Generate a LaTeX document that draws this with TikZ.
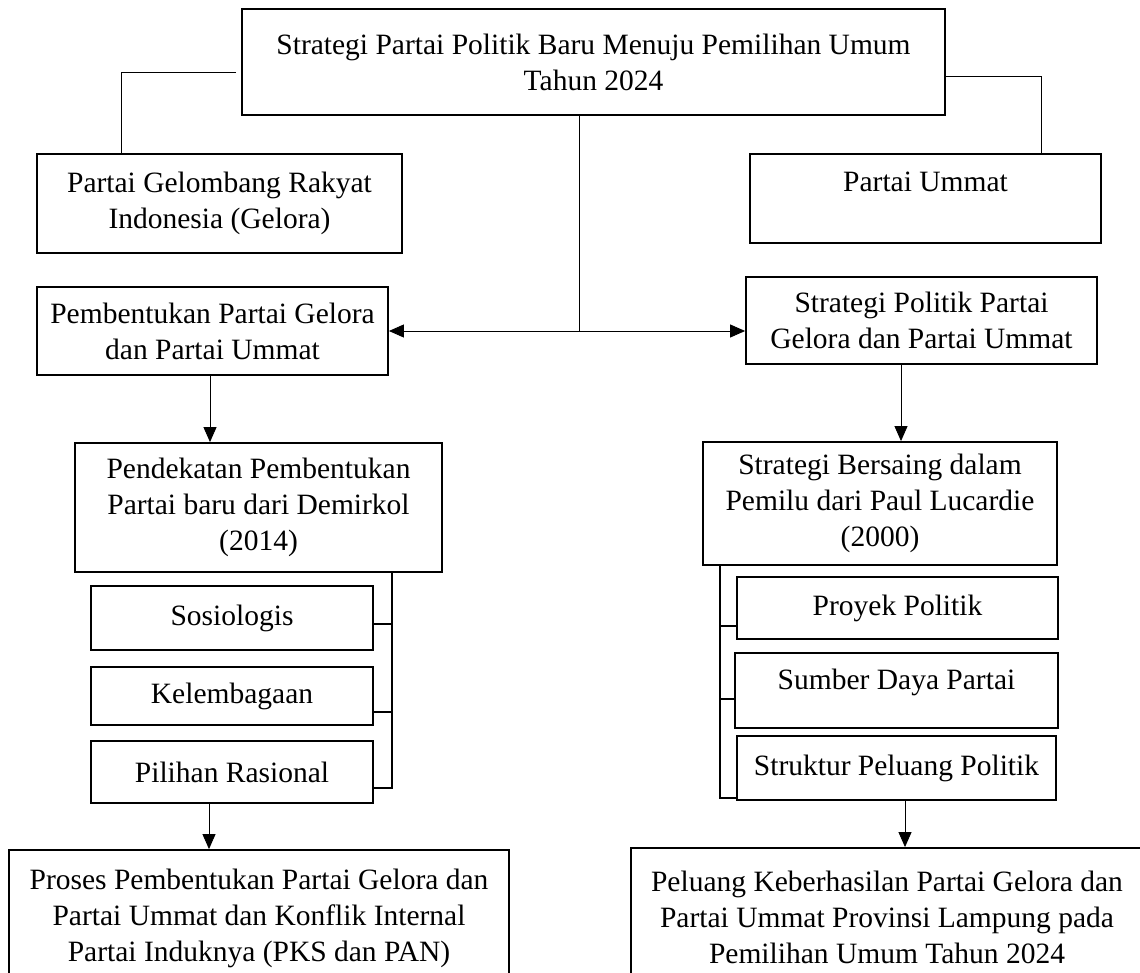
\documentclass[tikz,border=0pt]{standalone}
\usepackage{fontspec}
\setmainfont{Liberation Serif}
\usetikzlibrary{positioning,calc,arrows.meta}

\begin{document}
\begin{tikzpicture}[%
    x=1pt,
    y=-1pt,
    font=\fontsize{29.5}{36}\selectfont,
    >={Triangle[length=15pt,width=13pt]},
    box/.style={%
      rectangle,
      draw,
      line width=1.8pt,
      align=center,
      inner sep=0pt
    },
    link/.style={line width=0.9pt},
    bracket/.style={line width=1.8pt}
  ]
    \useasboundingbox (0,0) rectangle (1140,973);
    \clip (0,0) rectangle (1140,973);

    \node[box, minimum width=703, minimum height=106] (1) at (593.5,62) {Strategi Partai Politik Baru Menuju Pemilihan Umum\\Tahun 2024};
    \node[box, minimum width=365, minimum height=99] (2) at (219.5,203.5) {Partai Gelombang Rakyat\\Indonesia (Gelora)};
    \node[box, minimum width=351, minimum height=89] (3) at (925.5,198.5) {Partai Ummat\\[-3pt]\mbox{}};
    \node[box, minimum width=351, minimum height=88] (4) at (212.5,331) {Pembentukan Partai Gelora\\dan Partai Ummat};
    \node[box, minimum width=351, minimum height=87] (5) at (921.5,320.5) {Strategi Politik Partai\\Gelora dan Partai Ummat};
    \node[box, minimum width=367, minimum height=129] (6) at (258.5,507.5) {Pendekatan Pembentukan\\Partai baru dari Demirkol\\(2014)};
    \node[box, minimum width=354, minimum height=123] (7) at (880,503.5) {Strategi Bersaing dalam\\Pemilu dari Paul Lucardie\\(2000)};
    \node[box, minimum width=282, minimum height=64] (8) at (232,618) {Sosiologis};
    \node[box, minimum width=282, minimum height=58] (9) at (232,696) {Kelembagaan};
    \node[box, minimum width=282, minimum height=62] (10) at (232,772) {Pilihan Rasional};
    \node[box, minimum width=321, minimum height=62] (11) at (897.5,608) {Proyek Politik};
    \node[box, minimum width=323, minimum height=75] (12) at (896.5,690.5) {Sumber Daya Partai\\[-13pt]\mbox{}};
    \node[box, minimum width=319, minimum height=64] (13) at (896.5,768) {Struktur Peluang Politik};
    \node[box, minimum width=500, minimum height=136] (14) at (259,918) {Proses Pembentukan Partai Gelora dan\\Partai Ummat dan Konflik Internal\\Partai Induknya (PKS dan PAN)};
    \node[box, minimum width=512, minimum height=138] (15) at (887,917) {Peluang Keberhasilan Partai Gelora dan\\Partai Ummat Provinsi Lampung pada\\Pemilihan Umum Tahun 2024};

    \coordinate (Middle) at (579,331);

    \draw[link] ([xshift=-5pt,yshift=-10pt]1.west) -| ([xshift=-98.5pt]2.north);
    \draw[link] ([yshift=-14pt]1.east) -| ([xshift=115.5pt]3.north);
    \draw[link] ([xshift=-14.5pt]1.south) -- (Middle);
    \draw[link,->] (Middle) -- (4.east);
    \draw[link,->] (Middle) -- (Middle -| 5.west);
    \draw[link,->] ([xshift=-2.5pt]4.south) -- ([xshift=-48.5pt]6.north);
    \draw[link,->] ([xshift=-20.5pt]5.south) -- ([xshift=21pt]7.north);
    \draw[link,->] ([xshift=-23pt]10.south) -- ([xshift=-50pt]14.north);
    \draw[link,->] ([xshift=8.5pt]13.south) -- ([xshift=18pt]15.north);

    % brackets
    \draw[bracket] ([xshift=-51pt]6.south east) |- ([yshift=16pt]10.south east);
    \draw[bracket] ([yshift=-6pt]8.east) -- ++(18,0);
    \draw[bracket] ([yshift=-16pt]9.east) -- ++(18,0);
    \draw[bracket] ([xshift=18pt]7.south west) |- ([yshift=3pt]13.south west);
    \draw[bracket] ([yshift=-18pt]11.west) -- ++(-16,0);
    \draw[bracket] ([yshift=-8.5pt]12.west) -- ++(-14,0);
\end{tikzpicture}
\end{document}
